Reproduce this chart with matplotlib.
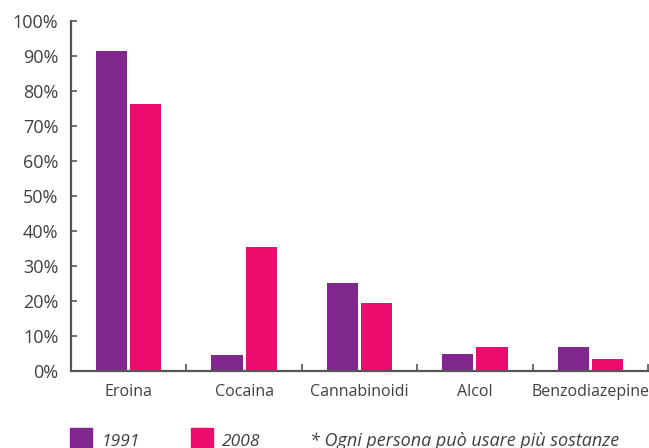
import matplotlib.pyplot as plt
import numpy as np
from matplotlib.patches import Rectangle

# data
categories = ['Eroina', 'Cocaina', 'Cannabinoidi', 'Alcol', 'Benzodiazepine']
val_1991 = [91.4, 4.6, 25.1, 4.9, 6.9]
val_2008 = [76.3, 35.4, 19.4, 6.9, 3.4]
years = ['1991', '2008']
note = '* Ogni persona può usare più sostanze'

purple = '#80288E'
pink = '#EC0C6E'
axis_col = '#555555'
text_col = '#404040'

plt.rcParams['font.family'] = ['Open Sans', 'DejaVu Sans']

fig = plt.figure(figsize=(6.49, 4.48), dpi=100)
ax = fig.add_axes([71 / 649, 1 - 371 / 448, 577 / 649, 350 / 448])

x = np.arange(len(categories))
w = 0.27
gap = 0.026
ax.bar(x - (w + gap) / 2, val_1991, w, color=purple, zorder=1)
ax.bar(x + (w + gap) / 2, val_2008, w, color=pink, zorder=1)

ax.set_xlim(-0.5, len(categories) - 0.5)
ax.set_ylim(0, 100)

for s in ['top', 'right']:
    ax.spines[s].set_visible(False)
for s in ['left', 'bottom']:
    ax.spines[s].set_color(axis_col)
    ax.spines[s].set_linewidth(1.6)
    ax.spines[s].set_zorder(3)

ax.set_yticks(np.arange(0, 101, 10))
ax.set_yticklabels([f'{v}%' for v in range(0, 101, 10)])
ax.tick_params(axis='y', direction='in', length=4, width=1.2, color=axis_col,
               labelsize=13, labelcolor=text_col, pad=9)

ax.set_xticks(x)
ax.set_xticklabels(categories)
ax.tick_params(axis='x', length=0, labelsize=11.5, labelcolor=text_col, pad=9)
ax.set_xticks(np.arange(-0.5, len(categories), 1), minor=True)
ax.tick_params(axis='x', which='minor', direction='in', length=5, width=1.2,
               color=axis_col)

# legend row at the bottom (cut off by the image edge, as in the original)
for xpos, col, lab in [(70, purple, years[0]), (191, pink, years[1])]:
    fig.add_artist(Rectangle((xpos / 649, 0), 22 / 649, 20 / 448,
                             transform=fig.transFigure, color=col))
    fig.text((xpos + 31) / 649, 2 / 448, lab, fontsize=12.5, style='italic',
             color=text_col, va='baseline')
fig.text(310 / 649, 2 / 448, note, fontsize=13, style='italic',
         color=text_col, va='baseline')

fig.savefig('out.png', dpi=100)
